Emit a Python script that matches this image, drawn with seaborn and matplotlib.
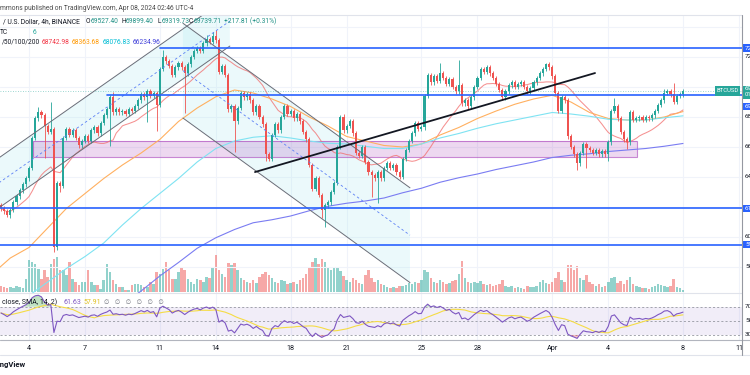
import numpy as np
import pandas as pd
import matplotlib
matplotlib.use("Agg")
import matplotlib.pyplot as plt
import matplotlib.dates as mdates
from matplotlib.patches import Polygon, Rectangle
import seaborn as sns

# ---------------------------------------------------------------- data
bar_start = "2024-03-02 12:00"          # 4h bars, BTCUSD Binance
first_open = 62100
closes = [
    61900, 61700, 61450,                                  # Mar 2
    61800, 62300, 62700, 63100, 63500, 63900,             # Mar 3
    64600, 66600, 67900, 68300, 68100, 67400,             # Mar 4
    67000, 67200, 59300, 63600, 63400, 66600,             # Mar 5
    67200, 66800, 67100, 66600, 66100, 66400,             # Mar 6
    66700, 66400, 67100, 67300, 66900, 67600,             # Mar 7
    68100, 68500, 69300, 68300, 68500, 68300,             # Mar 8
    68400, 68200, 68500, 68400, 68700, 69100,             # Mar 9
    69500, 69300, 69700, 69400, 69600, 68800,             # Mar 10
    71200, 72000, 71700, 71400, 70800, 71300,             # Mar 11
    71600, 71300, 70900, 71500, 72000, 72400,             # Mar 12
    72600, 72400, 72900, 73200, 73000, 73400,             # Mar 13
    73100, 71000, 71400, 70800, 68500, 68700,             # Mar 14
    67700, 68600, 69600, 69300, 69500, 69100,             # Mar 15
    68300, 68700, 68000, 67500, 65500, 65200,             # Mar 16
    66800, 67500, 67100, 68000, 68700, 68200,             # Mar 17
    68400, 67900, 68200, 67700, 67000, 66500,             # Mar 18
    64800, 63200, 63900, 62800, 61800, 62100,             # Mar 19
    62300, 63000, 63600, 66000, 68000, 67100,             # Mar 20
    67400, 67700, 66900, 65600, 65400, 66000,             # Mar 21
    65000, 64300, 64100, 63900, 64300, 63900,             # Mar 22
    64600, 64900, 64600, 64800, 64300, 64000,             # Mar 23
    65200, 65800, 66400, 66900, 67600, 67200,             # Mar 24
    67300, 69400, 70800, 70300, 70700, 70400,             # Mar 25
    70900, 70600, 70200, 70500, 70000, 69700,             # Mar 26
    70100, 68900, 69100, 68700, 69300, 70000,             # Mar 27
    70600, 71200, 71000, 71300, 70900, 70600,             # Mar 28
    70200, 69800, 69300, 69700, 70100, 70300,             # Mar 29
    70000, 70200, 70300, 70000, 69700, 69900,             # Mar 30
    70300, 70600, 70900, 71200, 71500, 71300,             # Mar 31
    70700, 69600, 68400, 69300, 69100, 66700,             # Apr 1
    66000, 65500, 64900, 65600, 66200, 65900,             # Apr 2
    65800, 65600, 65800, 65500, 65700, 65500,             # Apr 3
    66300, 68400, 68700, 67900, 67000, 66500,             # Apr 4
    66300, 68300, 67800, 67900, 68000, 67800,             # Apr 5
    68000, 67900, 68100, 68400, 68800, 69100,             # Apr 6
    69600, 69700, 69500, 69000, 69400, 69527.40,          # Apr 7
    69739.71,                                             # Apr 8
]
wick_highs = {12: 68700, 16: 69000, 36: 69700, 52: 72500, 66: 73500, 68: 73700,
              69: 73780, 110: 68200, 141: 71600, 147: 71800, 175: 71600,
              197: 69300, 213: 69900, 216: 70300, 219: 69899.40}
wick_lows = {2: 61350, 14: 65300, 17: 59000, 19: 63000, 35: 66100, 47: 67700,
             50: 67100, 59: 68300, 75: 65700, 85: 65100, 103: 61300, 104: 60700,
             119: 62700, 121: 62300, 185: 64500, 188: 64600, 195: 65100,
             201: 65900, 219: 69319.73}
volume = [
    6, 5, 4,
    5, 4, 6, 5, 4, 13,
    32, 30, 28, 23, 13, 22,
    15, 28, 33, 35, 22, 22,
    17, 30, 13, 10, 7, 10,
    10, 22, 10, 7, 7, 3,
    12, 28, 20, 12, 8, 5,
    5, 2, 2, 7, 8, 8,
    7, 5, 5, 10, 8, 20,
    18, 23, 30, 22, 13, 13,
    20, 25, 22, 13, 10, 8,
    13, 12, 10, 15, 14, 25,
    37, 22, 18, 15, 29, 27,
    29, 22, 14, 12, 10, 9,
    12, 9, 15, 18, 20, 17,
    14, 10, 9, 12, 11, 8,
    9, 10, 8, 12, 14, 18,
    25, 30, 34, 28, 33, 30,
    24, 22, 25, 24, 21, 16,
    12, 10, 14, 12, 9, 8,
    17, 22, 14, 10, 12, 8,
    7, 5, 4, 5, 4, 6,
    6, 7, 9, 8, 10, 9,
    12, 22, 20, 14, 10, 9,
    12, 10, 8, 9, 11, 12,
    18, 31, 14, 10, 9, 10,
    9, 11, 8, 7, 8, 6,
    7, 8, 12, 6, 5, 6,
    4, 5, 4, 3, 6, 5,
    5, 6, 10, 12, 9, 8,
    10, 14, 20, 12, 10, 27,
    27, 22, 26, 14, 12, 17,
    10, 8, 6, 8, 5, 6,
    10, 14, 15, 9, 11, 8,
    12, 15, 8, 6, 5, 4,
    4, 3, 5, 6, 8, 7,
    6, 5, 6, 13, 5, 4,
    2,
]
ma_days = pd.date_range("2024-03-02", "2024-04-08", freq="D")
sma50 = [57500, 58600, 59300, 60600, 61900, 62900, 63900, 64800, 65600, 66500,
         67700, 68600, 69350, 69800, 69600, 69200, 68700, 68000, 67400, 66700,
         66400, 66100, 66000, 66200, 66800, 67300, 67900, 68400, 68850, 69200,
         69450, 69000, 68300, 67900, 67800, 67800, 68000, 68364]
sma100 = [54100, 55100, 56100, 57000, 57900, 58700, 59600, 60800, 61900, 62900,
          63900, 65000, 65900, 66400, 66650, 66750, 66600, 66400, 66250, 66200,
          66050, 65900, 65900, 66200, 66600, 66900, 67250, 67550, 67800, 68050,
          68300, 68200, 68050, 67850, 67800, 67800, 67950, 68077]
sma200 = [50800, 51400, 52000, 52700, 53400, 54000, 54700, 55500, 56400, 57400,
          58300, 59250, 59950, 60500, 60950, 61150, 61400, 61750, 62050, 62250,
          62400, 62600, 62950, 63250, 63650, 63950, 64200, 64500, 64750, 65000,
          65300, 65450, 65550, 65700, 65800, 65900, 66050, 66235]
rsi_seed_gain, rsi_seed_loss = 260, 150     # Wilder averages before the window

# drawings (time, price)
rise_ch_t = ["2024-03-02 09:00", "2024-03-14 18:00"]
rise_ch_lower = [61930, 72730]
rise_ch_width = 3333
desc_ch_t = ["2024-03-12 05:45", "2024-03-24 09:20"]
desc_ch_upper = [74250, 63280]
desc_ch_width = 6320
trend_t = ["2024-03-16 02:15", "2024-04-03 07:00"]
trend_p = [64330, 70930]
zone_t = ["2024-03-04 05:00", "2024-04-05 13:00"]
zone_p = [65310, 66420]
levels = [72600, 69470, 61920, 59500]
level_start = ["2024-03-11 00:15", "2024-03-08 04:00", None, None]
last_price = 69739.71
date_ticks = ["2024-03-04", "2024-03-07", "2024-03-11", "2024-03-14", "2024-03-18",
              "2024-03-21", "2024-03-25", "2024-03-28", "2024-04-01", "2024-04-04",
              "2024-04-08", "2024-04-11"]
date_labels = ["4", "7", "11", "14", "18", "21", "25", "28", "Apr", "4", "8", "11"]

# ---------------------------------------------------------------- style
TEAL, RED = "#26a69a", "#ef5350"
sns.set_theme(style="white")
plt.rcParams["font.family"] = ["Roboto", "DejaVu Sans"]

W, H = 750, 375
PANE_TOP, PANE_BOT, RSI_BOT, AX_RIGHT = 15, 293, 340, 742
X0_PX, PX_PER_DAY = 29, 18.686
x_ref = mdates.date2num(pd.Timestamp("2024-03-04"))
xmin = x_ref - X0_PX / PX_PER_DAY
xmax = x_ref + (AX_RIGHT - X0_PX) / PX_PER_DAY
ytop = 72000 + (57 - PANE_TOP) / 0.015
ybot = 72000 - (PANE_BOT - 57) / 0.015


def rect(top, bot):
    return [0, 1 - bot / H, AX_RIGHT / W, (bot - top) / H]


def py(p):
    return PANE_TOP + (ytop - p) / (ytop - ybot) * (PANE_BOT - PANE_TOP)


def T(s):
    return mdates.date2num(pd.Timestamp(s))


fig = plt.figure(figsize=(W / 100, H / 100), dpi=100)
fig.patch.set_facecolor("white")
axv = fig.add_axes(rect(PANE_TOP, PANE_BOT))
axp = fig.add_axes(rect(PANE_TOP, PANE_BOT), sharex=axv)
axp.patch.set_alpha(0)
axr = fig.add_axes(rect(PANE_BOT, RSI_BOT), sharex=axv)
for a in (axv, axp, axr):
    a.set_xlim(xmin, xmax)
    for s in a.spines.values():
        s.set_visible(False)
    a.set_yticks([])
    a.tick_params(length=0)
for a in (axv, axp):
    a.tick_params(axis="x", labelbottom=False, bottom=False)
axp.set_ylim(ybot, ytop)

# grid
for d in date_ticks:
    axv.axvline(T(d), color="#f0f3fa", lw=0.8, zorder=0)
    axr.axvline(T(d), color="#f0f3fa", lw=0.8, zorder=0)
for p in range(58000, 76000, 2000):
    axp.axhline(p, color="#f0f3fa", lw=0.8, zorder=0)

# bars
t = pd.date_range(bar_start, periods=len(closes), freq="4h")
x = mdates.date2num(t)
c = np.array(closes, float)
o = np.r_[first_open, c[:-1]]
hi = np.maximum(o, c) + 150
lo = np.minimum(o, c) - 150
for k, v in wick_highs.items():
    hi[k] = v
for k, v in wick_lows.items():
    lo[k] = v
up = c >= o
col = np.where(up, TEAL, RED)

vol = np.array(volume, float)
axv.bar(x, vol, width=0.8 / 6, color=col, alpha=0.5, linewidth=0)
axv.set_ylim(-1, 277)

# channels / zone
def fill_channel(ts, lower, width, **kw):
    xa, xb = T(ts[0]), T(ts[1])
    poly = Polygon([(xa, lower[0]), (xb, lower[1]), (xb, lower[1] + width),
                    (xa, lower[0] + width)], closed=True, **kw)
    axp.add_patch(poly)
    for off, ls, lc, lw in [(0, "-", "#6a6d78", 0.7), (width, "-", "#6a6d78", 0.7),
                            (width / 2, (0, (3, 3)), "#5b7ff5", 0.6)]:
        axp.plot([xa, xb], [lower[0] + off, lower[1] + off], ls=ls, color=lc,
                 lw=lw, zorder=4)

fill_channel(rise_ch_t, rise_ch_lower, rise_ch_width, facecolor="#b2ebf2",
             alpha=0.25, lw=0, zorder=1)
fill_channel(desc_ch_t, [p - desc_ch_width for p in desc_ch_upper], desc_ch_width,
             facecolor="#b2ebf2", alpha=0.25, lw=0, zorder=1)

axp.add_patch(Rectangle((T(zone_t[0]), zone_p[0]), T(zone_t[1]) - T(zone_t[0]),
                        zone_p[1] - zone_p[0], facecolor="#9c27b0", alpha=0.18,
                        lw=0, zorder=1.5))
axp.add_patch(Rectangle((T(zone_t[0]), zone_p[0]), T(zone_t[1]) - T(zone_t[0]),
                        zone_p[1] - zone_p[0], facecolor="none",
                        edgecolor="#ab47bc", alpha=0.65, lw=0.8, zorder=1.6))

# moving averages
sma20 = pd.Series(c).rolling(20, min_periods=1).mean()
sns.lineplot(x=x, y=sma20.values, ax=axp, color="#f26c6c", lw=0.75, alpha=0.75,
             estimator=None, sort=False, legend=False, zorder=2)
md = mdates.date2num(ma_days)
for vals, colr in [(sma50, "#ffb060"), (sma100, "#7fe3f2"), (sma200, "#7a7cf2")]:
    sns.lineplot(x=md, y=vals, ax=axp, color=colr, lw=0.8, estimator=None,
                 sort=False, legend=False, zorder=2)

# levels
for lv, st in zip(levels, level_start):
    xa = T(st) if st else xmin
    axp.plot([xa, xmax], [lv, lv], color="#2962ff", lw=1.2, zorder=4.5)
axp.axhline(last_price, color="#26a69a", lw=0.6, ls=(0, (1, 2)), alpha=0.6, zorder=2)

# candles
axp.vlines(x, lo, hi, colors=col, lw=0.6, zorder=3)
axp.bar(x, np.maximum(np.abs(c - o), 40), bottom=np.minimum(o, c), width=0.68 / 6,
        color=col, linewidth=0, zorder=3.1)

# trendline
axp.plot([T(trend_t[0]), T(trend_t[1])], trend_p, color="#131722", lw=1.3, zorder=5)
for a in (axv, axp):
    a.set_xlabel("")
    a.set_ylabel("")

# RSI
ag, al = rsi_seed_gain, rsi_seed_loss
prev = first_open
rsi = []
for v in c:
    d = v - prev
    ag = (ag * 13 + max(d, 0)) / 14
    al = (al * 13 + max(-d, 0)) / 14
    rsi.append(100 - 100 / (1 + ag / al))
    prev = v
rsi = np.array(rsi)
rsi_ma = pd.Series(rsi).rolling(14, min_periods=1).mean().values
axr.set_ylim(22.9, 89.4)
axr.axhspan(30, 70, color="#7e57c2", alpha=0.1, lw=0, zorder=0.5)
for lv in (70, 50, 30):
    axr.axhline(lv, color="#9598a1", lw=0.6, ls=(0, (2.5, 2.5)), zorder=1)
axr.fill_between(x, 70, rsi, where=rsi >= 70, interpolate=True, color="#4caf50",
                 alpha=0.35, lw=0, zorder=1.5)
axr.fill_between(x, 30, rsi, where=rsi <= 30, interpolate=True, color="#f23645",
                 alpha=0.3, lw=0, zorder=1.5)
sns.lineplot(x=x, y=rsi_ma, ax=axr, color="#f5dc45", lw=0.8, estimator=None,
             sort=False, legend=False, zorder=2)
sns.lineplot(x=x, y=rsi, ax=axr, color="#7e57c2", lw=0.8, estimator=None,
             sort=False, legend=False, zorder=3)
axr.set_xticks([T(d) for d in date_ticks])
axr.set_xticklabels(date_labels, fontsize=5.2, color="#131722")
axr.tick_params(axis="x", pad=3.5, length=0, labelbottom=True)
axr.set_xlabel("")
axr.set_ylabel("")

# frame lines (figure pixels)
def hline(yp, x0, x1, color, lw=0.8):
    fig.add_artist(plt.Line2D([x0 / W, x1 / W], [1 - yp / H, 1 - yp / H],
                              color=color, lw=lw))

hline(PANE_TOP, 0, AX_RIGHT, "#e0e3eb")
hline(PANE_BOT, 0, AX_RIGHT, "#e0e3eb")
hline(RSI_BOT, 0, W, "#b2b5be")
hline(354.5, 0, W, "#e0e3eb")
fig.add_artist(plt.Line2D([AX_RIGHT / W] * 2, [1 - PANE_TOP / H, 1 - 354.5 / H],
                          color="#9598a1", lw=0.8))

# texts
def ftxt(xp, yp, s, **kw):
    kw.setdefault("fontsize", 4.8)
    kw.setdefault("va", "center")
    kw.setdefault("ha", "left")
    fig.text(xp / W, 1 - yp / H, s, **kw)

ftxt(0, 8, "mmons published on TradingView.com, Apr 08, 2024 02:46 UTC-4",
     color="#4a4a4a", fontsize=4.75)
ftxt(3, 21.5, "/ U.S. Dollar, 4h, BINANCE", color="#131722", fontsize=4.9)
for xp, lab, val in [(86, "O", "69527.40"), (121, "H", "69899.40"),
                     (157, "L", "69319.73"), (189, "C", "69739.71")]:
    ftxt(xp, 21.5, lab, color="#131722")
    ftxt(xp + 4.9, 21.5, val, color="#1e8f84")
ftxt(224, 21.5, "+217.81 (+0.31%)", color="#1e8f84")
ftxt(0, 32, "TC", color="#131722")
ftxt(33, 32, "6", color=TEAL)
ftxt(2, 42.5, "/50/100/200", color="#131722")
for xp, val, colr in [(42, "68742.98", "#f23645"), (72, "68363.68", "#ff9800"),
                      (103, "68076.83", "#00bcd4"), (133, "66234.96", "#3f3fd9")]:
    ftxt(xp, 42.5, val, color=colr)

ftxt(2, 302, "close, SMA, 14, 2)", color="#131722", fontsize=5.0)
ftxt(63, 302, "61.63", color="#7e57c2", fontsize=5.0)
ftxt(83, 302, "57.91", color="#e0c020", fontsize=5.0)
ftxt(104, 302, "   ".join(["\u2205"] * 6), color="#6a6d78", fontsize=4.3,
     family="DejaVu Sans")

ftxt(26, 365, "TradingView", color="#131722", fontsize=5.5, ha="right",
     fontweight="bold")

# right price scale
for p in (72000, 68000, 66000, 64000, 60000, 58000):
    ftxt(745, py(p), f"{p:.2f}", color="#131722", fontsize=4.6)
for lv, yp in [(72600, py(72600)), (69470, py(69470) + 12), (61920, py(61920)),
               (59500, py(59500))]:
    fig.patches.append(Rectangle(((AX_RIGHT + 1) / W, 1 - (yp + 3.5) / H), 10 / W,
                                 7 / H, transform=fig.transFigure,
                                 facecolor="#2962ff", lw=0))
    ftxt(745, yp, f"{lv:.2f}", color="white", fontsize=4.6)
yp = py(last_price)
fig.patches.append(Rectangle(((AX_RIGHT + 1) / W, 1 - (yp + 8) / H), 10 / W, 13 / H,
                             transform=fig.transFigure, facecolor=TEAL, lw=0))
ftxt(745, yp - 2, f"{last_price:.2f}", color="white", fontsize=4.6)
ftxt(745, yp + 4, "01:13:14", color="white", fontsize=4.2)
fig.patches.append(Rectangle((715 / W, 1 - (yp + 5) / H), 25 / W, 10 / H,
                             transform=fig.transFigure, facecolor=TEAL, lw=0))
ftxt(727.5, yp, "BTCUSD", color="white", fontsize=4.2, ha="center")
for lv in (70, 50, 30):
    ypp = PANE_BOT + (89.4 - lv) / (89.4 - 22.9) * (RSI_BOT - PANE_BOT)
    ftxt(745, ypp, f"{lv:.2f}", color="#131722", fontsize=4.6)

fig.savefig("out.png", dpi=100)
